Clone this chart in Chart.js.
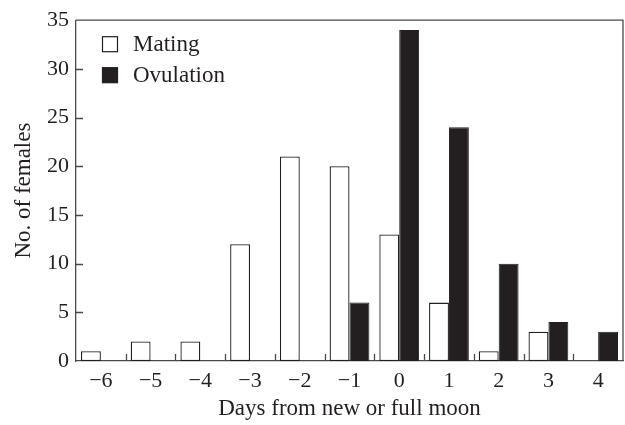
<!DOCTYPE html>
<html>
<head>
<meta charset="utf-8">
<script src="https://cdn.jsdelivr.net/npm/chart.js@4"></script>
<style>
    html, body { margin: 0; padding: 0; background: #fff; }
    #wrap { width: 625px; height: 425px; }
</style>
</head>
<body>
<div id="wrap"><canvas id="chart"></canvas></div>
<script>
// Days relative to new or full moon
const days = ['\u22126', '\u22125', '\u22124', '\u22123', '\u22122', '\u22121', '0', '1', '2', '3', '4'];
const mating = [1, 2, 2, 12, 21, 20, 13, 6, 1, 3, 0];
const ovulation = [0, 0, 0, 0, 0, 6, 34, 24, 10, 4, 3];
const yTicks = [0, 5, 10, 15, 20, 25, 30, 35];

const INK = '#231f20';
const AXIS = '#4a4a4a';
const FONT = 'Liberation Serif';

// frame, inward ticks and the legend box
const framePlugin = {
    id: 'frame',
    afterDraw(chart) {
        const { ctx, chartArea: a, scales } = chart;
        ctx.save();
        ctx.strokeStyle = AXIS;
        ctx.lineWidth = 1.3;
        ctx.beginPath();
        ctx.moveTo(a.left, a.top);
        ctx.lineTo(a.right, a.top);
        ctx.lineTo(a.right, a.bottom);
        ctx.stroke();

        // y ticks pointing in
        ctx.beginPath();
        yTicks.slice(1, -1).forEach(v => {
            const y = Math.round(scales.y.getPixelForValue(v)) + 0.5;
            ctx.moveTo(a.left, y);
            ctx.lineTo(a.left + 7, y);
        });
        // x ticks between categories
        for (let i = 1; i < days.length; i++) {
            const x = Math.round((scales.x.getPixelForValue(i - 1) + scales.x.getPixelForValue(i)) / 2) + 0.5;
            ctx.moveTo(x, a.bottom);
            ctx.lineTo(x, a.bottom - 7);
        }
        ctx.stroke();

        // legend
        ctx.font = '23px "' + FONT + '"';
        ctx.textBaseline = 'middle';
        chart.data.datasets.forEach((ds, i) => {
            const bx = a.left + 26.5;
            const by = a.top + 16.5 + i * 31;
            ctx.fillStyle = ds.backgroundColor;
            ctx.fillRect(bx, by, 15, 15);
            ctx.strokeStyle = INK;
            ctx.lineWidth = 1.2;
            ctx.strokeRect(bx, by, 15, 15);
            ctx.fillStyle = INK;
            ctx.fillText(ds.label, a.left + 57, by + 8);
        });
        ctx.restore();
    }
};

new Chart(document.getElementById('chart'), {
    type: 'bar',
    data: {
        labels: days,
        datasets: [
            {
                label: 'Mating',
                data: mating,
                backgroundColor: '#ffffff',
                borderColor: INK,
                borderWidth: 1.3,
                borderSkipped: false,
                categoryPercentage: 0.8,
                barPercentage: 1.0
            },
            {
                label: 'Ovulation',
                data: ovulation,
                backgroundColor: INK,
                borderColor: INK,
                borderWidth: 1,
                categoryPercentage: 0.8,
                barPercentage: 1.0
            }
        ]
    },
    options: {
        responsive: true,
        maintainAspectRatio: false,
        animation: false,
        layout: { padding: { top: 14, right: 2, left: 0, bottom: 0 } },
        plugins: {
            legend: { display: false },
            tooltip: { enabled: false }
        },
        scales: {
            x: {
                grid: { display: false, drawTicks: false },
                border: { display: true, color: AXIS, width: 1.3 },
                ticks: { color: INK, padding: 7, font: { family: FONT, size: 22 } },
                title: {
                    display: true,
                    text: 'Days from new or full moon',
                    color: INK,
                    font: { family: FONT, size: 23 },
                    padding: { top: 0, bottom: 2 }
                },
                afterFit: s => { s.height = 64; }
            },
            y: {
                min: 0,
                max: 35,
                afterBuildTicks: s => { s.ticks = yTicks.map(v => ({ value: v })); },
                grid: { display: false, drawTicks: false },
                border: { display: true, color: AXIS, width: 1.3 },
                ticks: { color: INK, padding: 7, font: { family: FONT, size: 22 } },
                title: {
                    display: true,
                    text: 'No. of females',
                    color: INK,
                    font: { family: FONT, size: 23 },
                    padding: { top: 10, bottom: 0 }
                },
                afterFit: s => { s.width = 76; }
            }
        }
    },
    plugins: [framePlugin]
});
</script>
</body>
</html>
